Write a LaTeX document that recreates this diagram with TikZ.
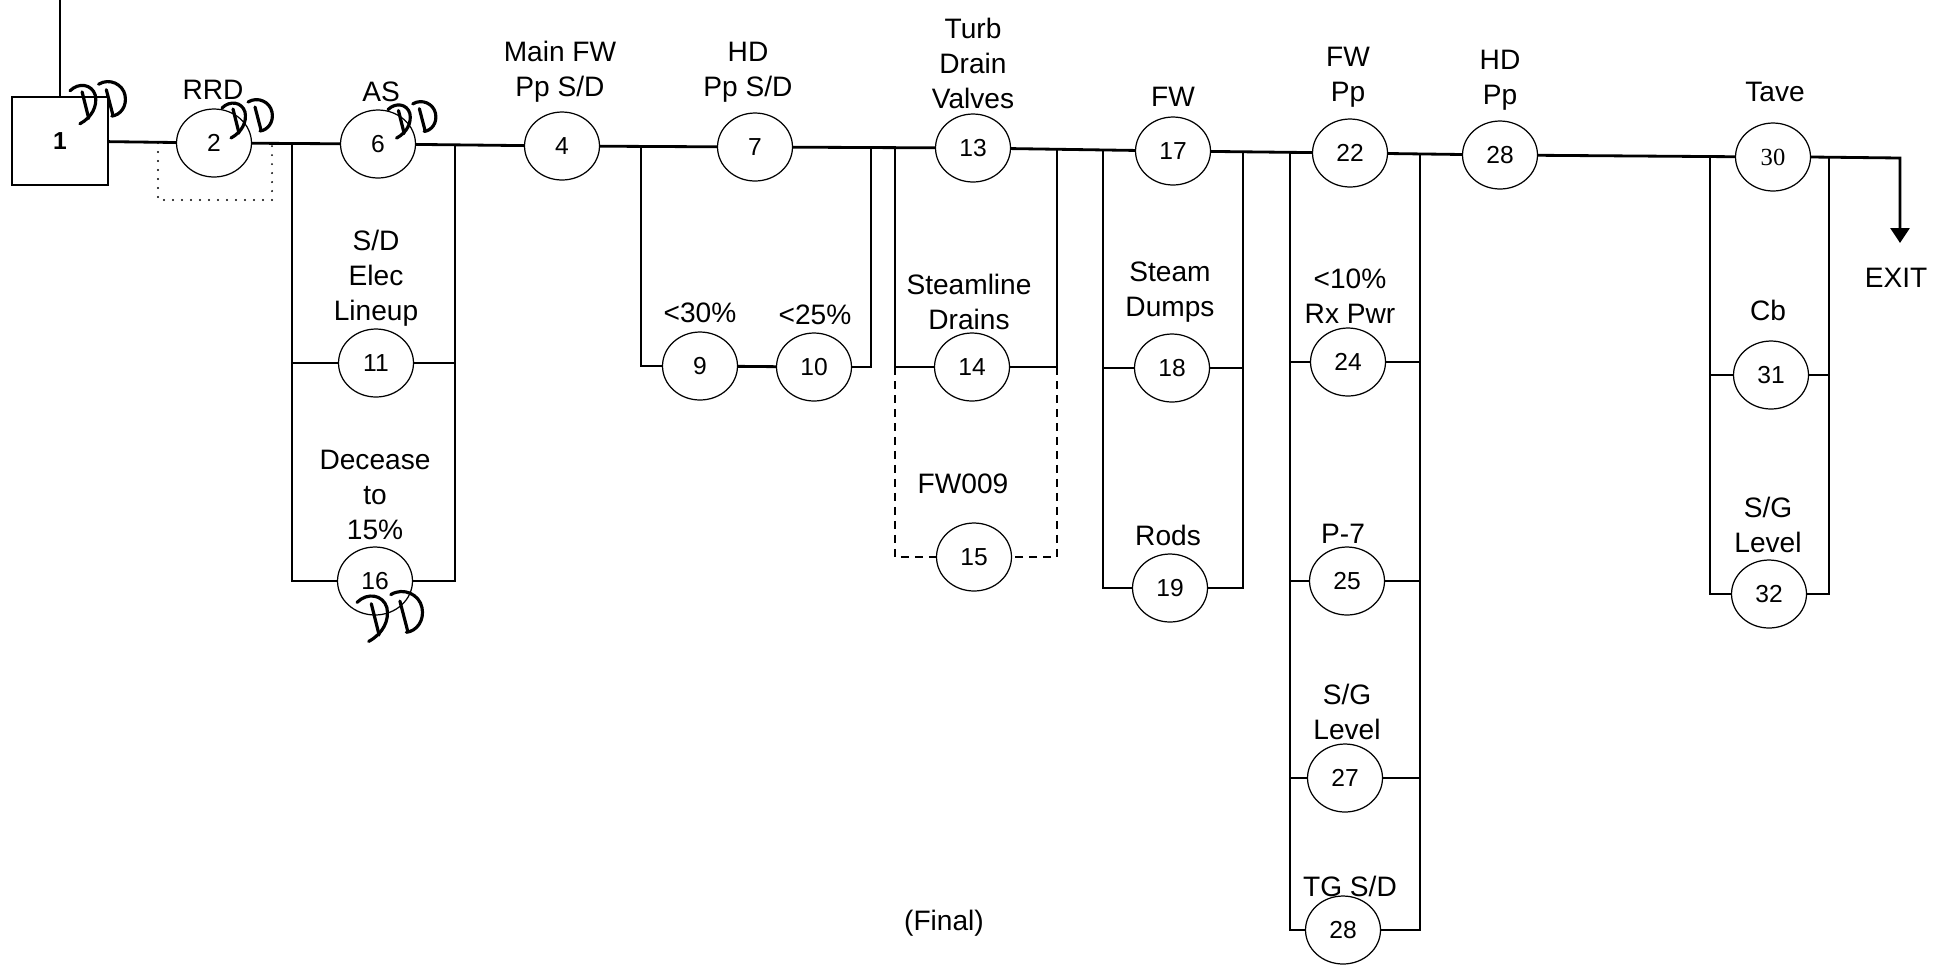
\documentclass[tikz,border=0pt]{standalone}
\usepackage{fontspec}
\setmainfont{Liberation Sans}
\newfontfamily\serifnum{Liberation Serif}
\usetikzlibrary{shapes.geometric,arrows.meta}

\begin{document}
\begin{tikzpicture}[x=0.02cm,y=-0.02cm,
  stepnode/.style={draw,ellipse,line width=0.7pt,minimum width=1.5cm,minimum height=1.36cm,inner sep=0pt,font=\fontsize{14}{16}\selectfont},
  tag/.style={align=center,inner sep=0pt,font=\fontsize{16}{19.9}\selectfont},
  wire/.style={line width=1.6pt},
  dashwire/.style={line width=1pt,dash pattern=on 0.16cm off 0.12cm},
  dotbox/.style={line width=1.2pt,line cap=round,dash pattern=on 0pt off 0.18cm},
  pics/initials/.style={code={
    \draw[line width=1.8pt,line cap=round] (11,9) -- (17,33);
    \draw[line width=1.8pt,line cap=round] (0,8) .. controls (8,0) and (20,2) .. (23,12) .. controls (25,22) and (20,32) .. (9,38);
    \draw[line width=1.8pt,line cap=round] (33,7) -- (39,30);
    \draw[line width=1.8pt,line cap=round] (26,2) .. controls (36,-4) and (48,2) .. (50,12) .. controls (52,22) and (46,30) .. (38,31);
  }}]
\useasboundingbox (0,0) rectangle (1943,968);

% start
\coordinate (entry) at (60,0);
\node[draw,line width=0.7pt,minimum width=1.92cm,minimum height=1.76cm,font=\bfseries\fontsize{14}{16}\selectfont] (b1) at (60,141) {1};

% steps on the main line
\node[stepnode] (n2) at (214,143) {2};
\node[stepnode] (n6) at (378,144) {6};
\node[stepnode] (n4) at (562,146) {4};
\node[stepnode] (n7) at (755,147) {7};
\node[stepnode] (n13) at (973,148) {13};
\node[stepnode] (n17) at (1173,151) {17};
\node[stepnode] (n22) at (1350,153) {22};
\node[stepnode] (n28) at (1500,155) {28};
\node[stepnode] (n30) at (1773,157) {\serifnum 30};

% parallel steps
\node[stepnode] (n11) at (376,363) {11};
\node[stepnode] (n16) at (375,581) {16};
\node[stepnode] (n9) at (700,366) {9};
\node[stepnode] (n10) at (814,367) {10};
\node[stepnode] (n14) at (972,367) {14};
\node[stepnode] (n15) at (974,557) {15};
\node[stepnode] (n18) at (1172,368) {18};
\node[stepnode] (n19) at (1170,588) {19};
\node[stepnode] (n24) at (1348,362) {24};
\node[stepnode] (n25) at (1347,581) {25};
\node[stepnode] (n27) at (1345,778) {27};
\node[stepnode] (n28b) at (1343,930) {28};
\node[stepnode] (n31) at (1771,375) {31};
\node[stepnode] (n32) at (1769,594) {32};

% labels
\node[tag] (t2) at (213,90) {RRD};
\node[tag] (t6) at (381,92) {AS};
\node[tag] (t11) at (376,278) {S/D\\Elec\\Lineup};
\node[tag] (t16) at (375,495) {Decease\\to\\15\%};
\node[tag] (t4) at (560,72) {Main FW\\Pp S/D};
\node[tag] (t7) at (748,72) {HD\\Pp S/D};
\node[tag] (t9) at (700,313) {<30\%};
\node[tag] (t10) at (815,315) {<25\%};
\node[tag] (t13) at (973,63) {Turb\\Drain\\Valves};
\node[tag] (t14) at (969,302) {Steamline\\Drains};
\node[tag] (t15) at (963,484) {FW009};
\node[tag] (t17) at (1173,97) {FW};
\node[tag] (t18) at (1170,292) {Steam\\Dumps};
\node[tag] (t19) at (1168,535) {Rods};
\node[tag] (t22) at (1348,77) {FW\\Pp};
\node[tag] (t24) at (1350,296) {<10\%\\Rx Pwr};
\node[tag] (t25) at (1343,534) {P-7};
\node[tag] (t27) at (1347,712) {S/G\\Level};
\node[tag] (t28b) at (1350,886) {TG S/D};
\node[tag] (t28) at (1500,80) {HD\\Pp};
\node[tag] (t30) at (1775,92) {Tave};
\node[tag] (t31) at (1768,310) {Cb};
\node[tag] (t32) at (1768,525) {S/G\\Level};
\node[tag] (texit) at (1896,278) {EXIT};
\node[tag] (final) at (944,923) {(Final)};

% bus tops on the main line
\coordinate (aL) at (292,144);
\coordinate (aR) at (455,145);
\coordinate (bL) at (641,146);
\coordinate (bR) at (871,147);
\coordinate (cL) at (895,148);
\coordinate (cR) at (1057,149);
\coordinate (dL) at (1103,151);
\coordinate (dR) at (1243,152);
\coordinate (eL) at (1290,152);
\coordinate (eR) at (1420,153);
\coordinate (fL) at (1710,157);
\coordinate (fR) at (1829,157);
\coordinate (turn) at (1900,158);
\coordinate (exitend) at (1900,243);

% main line
\draw[wire] (entry) -- (b1.north);
\draw[wire] (b1) -- (n2) -- (n6) -- (n4) -- (n7) -- (n13) -- (n17) -- (n22) -- (n28) -- (n30);
\draw[wire,-{Triangle[width=0.38cm,length=0.3cm]}] (n30.east) -- (turn) -- (exitend);

% branches
\draw[wire] (aL) |- (n16.west);
\draw[wire] (aR) |- (n16.east);
\draw[wire] (n11.west) -- (n11.west -| aL);
\draw[wire] (n11.east) -- (n11.east -| aR);
\draw[wire] (bL) |- (n9.west);
\draw[wire] (n9) -- (n10);
\draw[wire] (n10.east) -| (bR);
\draw[wire] (cL) |- (n14.west);
\draw[wire] (cR) |- (n14.east);
\draw[dashwire] (n14.west -| cL) |- (n15.west);
\draw[dashwire] (n14.east -| cR) |- (n15.east);
\draw[wire] (dL) |- (n19.west);
\draw[wire] (dR) |- (n19.east);
\draw[wire] (n18.west) -- (n18.west -| dL);
\draw[wire] (n18.east) -- (n18.east -| dR);
\draw[wire] (eL) |- (n28b.west);
\draw[wire] (eR) |- (n28b.east);
\foreach \s in {n24,n25,n27} {
  \draw[wire] (\s.west) -- (\s.west -| eL);
  \draw[wire] (\s.east) -- (\s.east -| eR);
}
\draw[wire] (fL) |- (n32.west);
\draw[wire] (fR) |- (n32.east);
\draw[wire] (n31.west) -- (n31.west -| fL);
\draw[wire] (n31.east) -- (n31.east -| fR);

% dotted bracket under RRD
\draw[dotbox] (158,143) -- (158,200) -- (272,200) -- (272,143);

% initials
\pic[scale=1.1] at (70,82) {initials};
\pic at (222,100) {initials};
\pic[scale=0.95] at (388,102) {initials};
\pic[scale=1.3] at (357,592) {initials};
\end{tikzpicture}
\end{document}
